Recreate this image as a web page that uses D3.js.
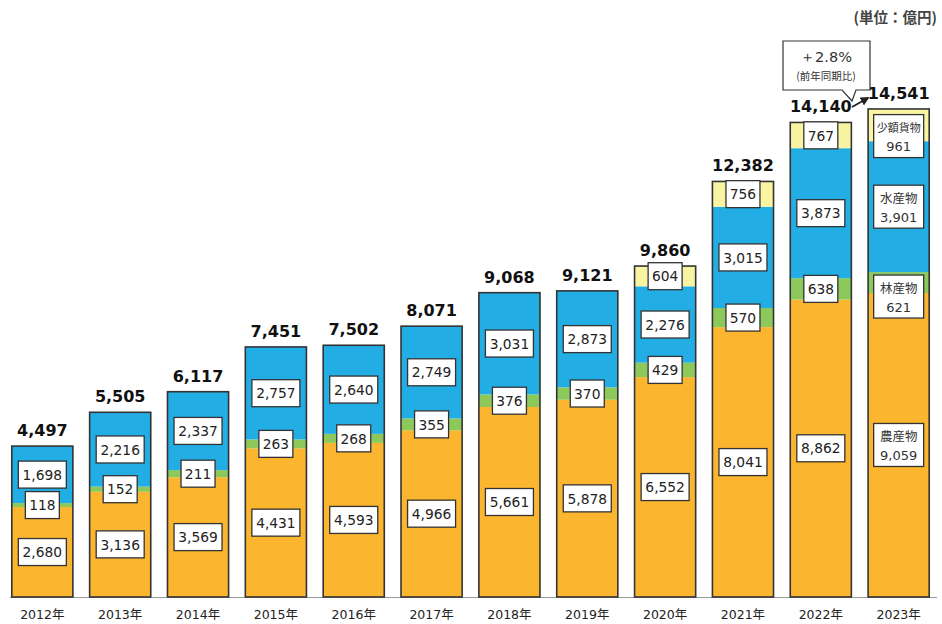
<!DOCTYPE html>
<html><head><meta charset="utf-8">
<script src="https://cdn.jsdelivr.net/npm/d3@7"></script>
<style>body{margin:0;background:#fff}svg{display:block}</style>
</head><body><svg id="c" width="942" height="624"></svg>
<script>
const years = ["2012年","2013年","2014年","2015年","2016年","2017年","2018年","2019年","2020年","2021年","2022年","2023年"];
const agri = [2680,3136,3569,4431,4593,4966,5661,5878,6552,8041,8862,9059];
const forest = [118,152,211,263,268,355,376,370,429,570,638,621];
const fish = [1698,2216,2337,2757,2640,2749,3031,2873,2276,3015,3873,3901];
const small = [0,0,0,0,0,0,0,0,604,756,767,961];
const totals = [4497,5505,6117,7451,7502,8071,9068,9121,9860,12382,14140,14541];
const seriesNames = ["農産物","林産物","水産物","少額貨物"];
const colors = ["#FBB52F","#8DC85B","#22AEE5","#F9F4A2"];

const svg = d3.select("#c");
const fmt = d3.format(",");
const x = d3.scaleBand().domain(years).range([4, 937]).paddingInner(0.215).paddingOuter(0.1);
const y = d3.scaleLinear().domain([0, 14541]).range([597, 109]);

const data = years.map((yr,i)=>({yr, v:[agri[i],forest[i],fish[i],small[i]], total: totals[i]}));

svg.append("line").attr("x1",10).attr("x2",937).attr("y1",y(0)+0.5).attr("y2",y(0)+0.5).attr("stroke","#999").attr("stroke-width",1.2);

const g = svg.append("g");
data.forEach((d,i)=>{
  let base = 0;
  const segs = [];
  d.v.forEach((v,k)=>{ segs.push({k, v, y0: base, y1: base+v}); base += v; });
  const bx = x(d.yr), bw = x.bandwidth();
  segs.forEach(s=>{
    if(s.v<=0) return;
    g.append("rect").attr("x",bx).attr("y",y(s.y1)).attr("width",bw).attr("height",y(s.y0)-y(s.y1)).attr("fill",colors[s.k]);
  });
  g.append("rect").attr("x",bx).attr("y",y(base)).attr("width",bw).attr("height",y(0)-y(base))
    .attr("fill","none").attr("stroke","#333").attr("stroke-width",1.6);
  g.append("text").attr("x",bx+bw/2).attr("y",y(base)-10).attr("text-anchor","middle")
    .attr("font-family","DejaVu Sans, Verdana, sans-serif").attr("font-weight","bold").attr("font-size",16)
    .attr("fill","#111").text(fmt(d.total));
  const last = i===years.length-1;
  segs.forEach(s=>{
    if(s.v<=0) return;
    const cx = bx+bw/2;
    let cy = (y(s.y0)+y(s.y1))/2;
    if(!last){
      const t = fmt(s.v);
      const w = t.length*7+13;
      g.append("rect").attr("x",cx-w/2).attr("y",cy-13.5).attr("width",w).attr("height",27)
        .attr("fill","#fff").attr("stroke","#333").attr("stroke-width",1.3);
      g.append("text").attr("x",cx).attr("y",cy+5.2).attr("text-anchor","middle")
        .attr("font-family","DejaVu Sans, Verdana, sans-serif").attr("font-size",13.8).attr("fill","#222").text(t);
    } else {
      const offs = [0, 14, 0, 11];
      cy += offs[s.k];
      const w = 50, h = 43;
      g.append("rect").attr("x",cx-w/2).attr("y",cy-h/2).attr("width",w).attr("height",h)
        .attr("fill","#fff").attr("stroke","#333").attr("stroke-width",1.3);
      g.append("text").attr("x",cx).attr("y",cy-4).attr("text-anchor","middle")
        .attr("font-family","Noto Sans CJK JP, sans-serif").attr("font-size",s.k===3?11:12.5).attr("fill","#333").text(seriesNames[s.k]);
      g.append("text").attr("x",cx).attr("y",cy+15).attr("text-anchor","middle")
        .attr("font-family","DejaVu Sans, Verdana, sans-serif").attr("font-size",13).attr("fill","#333").text(fmt(s.v));
    }
  });
});

svg.append("g").selectAll("text").data(years).join("text")
  .attr("x",d=>x(d)+x.bandwidth()/2).attr("y",619).attr("text-anchor","middle")
  .attr("font-family","DejaVu Sans, Verdana, sans-serif").attr("font-size",12.5).attr("fill","#222")
  .each(function(d){
    const t = d3.select(this);
    t.append("tspan").text(d.slice(0,4));
    t.append("tspan").attr("font-family","Noto Sans CJK JP, sans-serif").text("年");
  });

svg.append("text").attr("x",937).attr("y",23).attr("text-anchor","end")
  .attr("font-family","Noto Sans CJK JP, sans-serif").attr("font-weight","bold").attr("font-size",14.5).attr("fill","#444")
  .text("(単位：億円)");

const co = svg.append("g");
co.append("path").attr("d","M783,41 H870 V90 H856 L852,101 L842,90 H783 Z")
  .attr("fill","#fff").attr("stroke","#333").attr("stroke-width",1.2);
co.append("text").attr("x",826).attr("y",62).attr("text-anchor","middle")
  .attr("font-family","DejaVu Sans, Verdana, sans-serif").attr("font-size",14.5).attr("fill","#333").text("＋2.8%");
co.append("text").attr("x",826).attr("y",80).attr("text-anchor","middle")
  .attr("font-family","Noto Sans CJK JP, sans-serif").attr("font-size",10.5).attr("fill","#333").text("(前年同期比)");
svg.append("defs").append("marker").attr("id","ah").attr("viewBox","0 0 10 10").attr("refX",8).attr("refY",5)
  .attr("markerWidth",5).attr("markerHeight",5).attr("orient","auto")
  .append("path").attr("d","M0,0 L10,5 L0,10 Z").attr("fill","#222");
svg.append("line").attr("x1",852).attr("y1",107).attr("x2",868).attr("y2",98)
  .attr("stroke","#222").attr("stroke-width",1.8).attr("marker-end","url(#ah)");
</script></body></html>
